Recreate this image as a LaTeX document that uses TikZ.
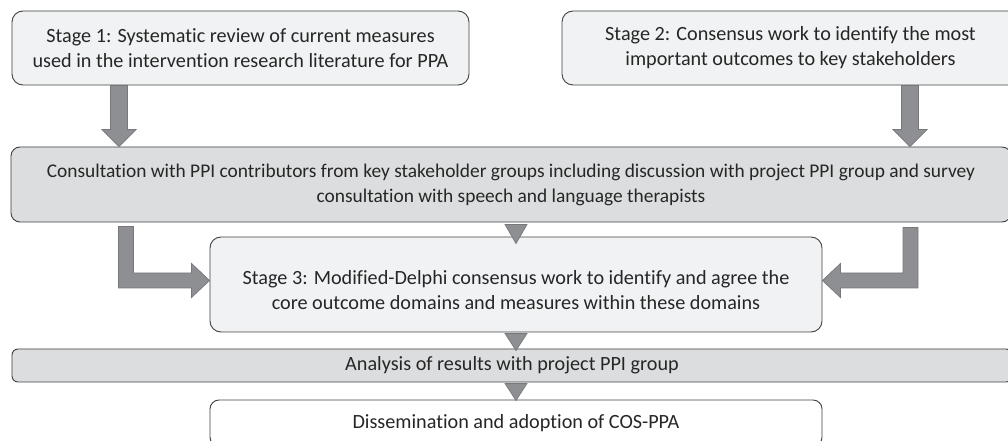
\documentclass[tikz,border=0pt]{standalone}
\usepackage{fontspec}
\setmainfont{Carlito}[Ligatures=NoCommon]
\usetikzlibrary{calc}

\definecolor{boxline}{HTML}{404040}
\definecolor{stagefill}{HTML}{F1F2F3}
\definecolor{bandfill}{HTML}{DCDDDE}
\definecolor{arrowfill}{HTML}{8E8F92}
\definecolor{arrowline}{HTML}{77787A}
\definecolor{textgray}{HTML}{262626}

% straight block arrow pointing down: #1 top of shaft, #2 tip
\newcommand\dblock[2]{%
  \draw[blockarrow] ($(#1)+(-8.5,0)$) -- ($(#2)+(-8.5,-17)$) -- ($(#2)+(-17,-17)$)
    -- (#2) -- ($(#2)+(17,-17)$) -- ($(#2)+(8.5,-17)$) -- ($(#1)+(8.5,0)$) -- cycle;}

% elbow block arrow: down from #1, then sideways to the tip #2; #3 = 1 (right) or -1 (left)
\newcommand\elbowblock[3]{%
  \draw[blockarrow] ($(#1)+({-7.5*#3},0)$) -- ($(#1 |- #2)+({-7.5*#3},7.5)$)
    -- ($(#2)+({-18*#3},7.5)$) -- ($(#2)+({-18*#3},17)$) -- (#2)
    -- ($(#2)+({-18*#3},-17)$) -- ($(#2)+({-18*#3},-7.5)$)
    -- ($(#1 |- #2)+({7.5*#3},-7.5)$) -- ($(#1)+({7.5*#3},0)$) -- cycle;}

% small triangular pointer: #1 centre of base, #2 tip
\newcommand\tipdown[2]{%
  \draw[blockarrow] ($(#1)+(-11,0)$) -- ($(#1)+(11,0)$) -- (#2) -- cycle;}

\begin{document}
\begin{tikzpicture}[x=1bp,y=-1bp,
  every node/.style={font=\fontsize{20.2bp}{25bp}\selectfont, align=center,
    inner sep=0pt, text=textgray},
  box/.style={draw=boxline, line width=0.9bp, rounded corners=11bp},
  stagebox/.style={box, fill=stagefill},
  bandbox/.style={box, fill=bandfill},
  blockarrow/.style={fill=arrowfill, draw=arrowline, line width=0.7bp, line join=miter},
]
\useasboundingbox (0,0) rectangle (1008,441);
\clip (0,0) rectangle (1008,441);

% boxes
\node[stagebox, minimum width=457bp, minimum height=74bp] (s1) at (240.5,48)
  {Stage 1: Systematic review of current measures\\used in the intervention research literature for PPA};
\node[stagebox, minimum width=457bp, minimum height=74bp] (s2) at (790.5,48)
  {Stage 2: Consensus work to identify the most\\important outcomes to key stakeholders};
\node[bandbox, rounded corners=9bp, minimum width=1000bp, minimum height=75bp,
      font=\fontsize{19.4bp}{25bp}\selectfont] (cons) at (511,184.5)
  {Consultation with PPI contributors from key stakeholder groups including discussion with project PPI group and survey\\consultation with speech and language therapists};
\node[stagebox, minimum width=612bp, minimum height=95bp] (s3) at (516,284.5)
  {\rule{0pt}{25bp}Stage 3: Modified-Delphi consensus work to identify and agree the\\core outcome domains and measures within these domains};
\node[bandbox, rounded corners=6bp, minimum width=1000bp, minimum height=33bp] (ana) at (512,365.5)
  {Analysis of results with project PPI group};
\node[box, rounded corners=9bp, fill=white, minimum width=612bp, minimum height=46bp] (dis) at (516,423)
  {Dissemination and adoption of COS-PPA};

% arrow columns and row
\coordinate (colL) at (119,0);
\coordinate (colR) at (910,0);
\coordinate (colLe) at (126,0);
\coordinate (colRe) at (910.5,0);
\coordinate (rowE) at (0,280.5);

% stage 1 and stage 2 into the consultation
\path (s1.south -| colL) coordinate (a1) (cons.north -| colL) coordinate (b1);
\path (s2.south -| colR) coordinate (a2) (cons.north -| colR) coordinate (b2);
\dblock{a1}{b1}
\dblock{a2}{b2}

% consultation into stage 3 from both sides
\path ($(cons.south -| colLe)+(0,4)$) coordinate (eL) (s3.west |- rowE) coordinate (tL);
\path ($(cons.south -| colRe)+(0,5)$) coordinate (eR) (s3.east |- rowE) coordinate (tR);
\elbowblock{eL}{tL}{1}
\elbowblock{eR}{tR}{-1}

% central pointers
\path ($(cons.south -| s3.north)+(0,2)$) coordinate (p1) ($(s3.north)+(0,7)$) coordinate (q1);
\path ($(s3.south)+(0,1)$) coordinate (p2) ($(ana.north -| s3.south)+(0,2)$) coordinate (q2);
\path ($(ana.south -| dis.north)+(0,1)$) coordinate (p3) ($(dis.north)+(0,1)$) coordinate (q3);
\tipdown{p1}{q1}
\tipdown{p2}{q2}
\tipdown{p3}{q3}
\end{tikzpicture}
\end{document}
